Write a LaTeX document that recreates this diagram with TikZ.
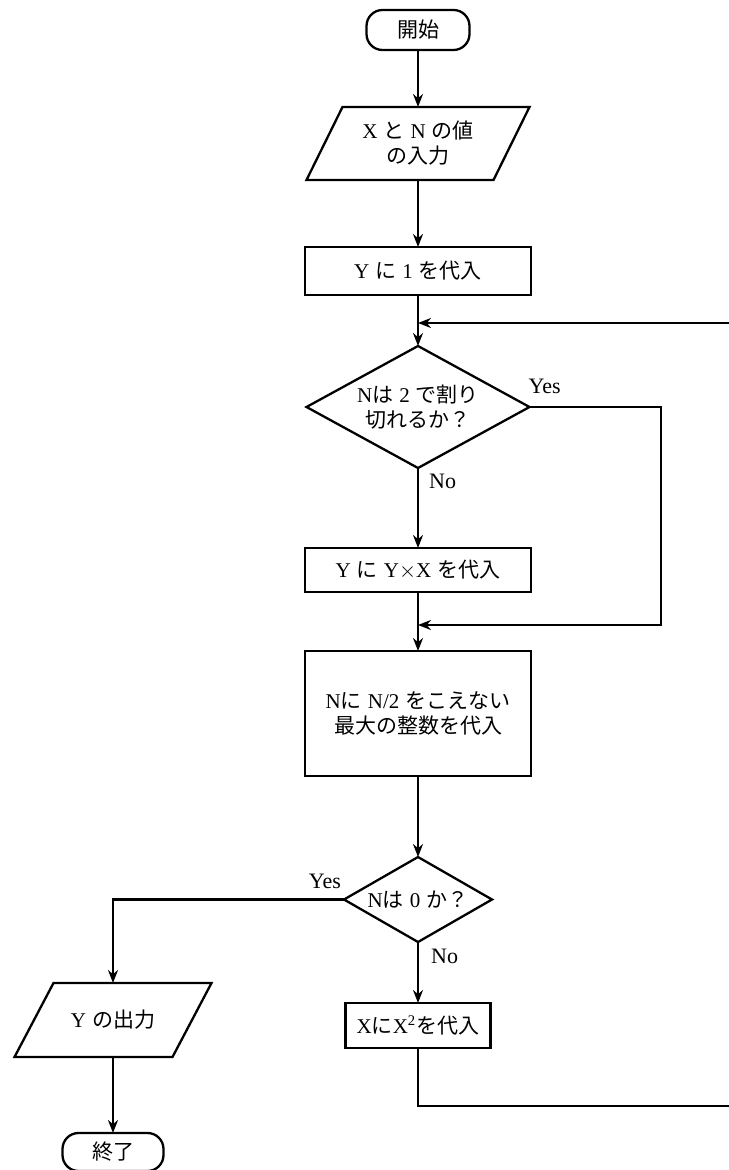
\documentclass[tikz,border=0pt]{standalone}
\usepackage{fontspec}
\setmainfont{Liberation Serif}
\newfontfamily\jpfont{Noto Sans CJK JP}
\newcommand{\jp}[1]{{\jpfont #1}}
\newcommand{\gap}{\hspace{3pt}}
% slanted frame round an io node
\newcommand{\ioframe}[2]{\draw ([xshift=-#2]#1.south west) -- ([xshift=#2]#1.north west)
  -- ([xshift=#2]#1.north east) -- ([xshift=-#2]#1.south east) -- cycle;}
\usetikzlibrary{arrows.meta,positioning,shapes.geometric}
\tikzset{
  terminal/.style={draw, rounded corners=8pt, minimum width=51.5pt,
    minimum height=20pt, inner sep=1pt, outer sep=0pt},
  process/.style={draw, rectangle, align=center, minimum width=113pt, inner sep=2pt, outer sep=0pt},
  io/.style={rectangle, align=center, inner sep=1pt, outer sep=0pt},
  decision/.style={draw, diamond, align=center, inner sep=0pt, outer sep=0pt},
  flow/.style={-{Stealth[length=6.5pt,width=5pt]}, line width=1.25pt},
  lbl/.style={inner sep=0pt, font=\fontsize{11pt}{13pt}\selectfont}
}

\begin{document}
\begin{tikzpicture}[line width=1.15pt, font=\fontsize{10.5pt}{12.5pt}\selectfont]
        \useasboundingbox (0,0) rectangle (364pt,-585pt);
        \node[terminal] (start) at (209pt,-15pt) {\jp{開始}};
        \node[io, minimum width=93.5pt, minimum height=36.5pt, below=28.5pt of start] (input) {X\gap\jp{と}\gap N\gap\jp{の値}\\\jp{の入力}};
        \node[process, minimum height=24pt, below=33.5pt of input] (setone) {Y\gap\jp{に}\gap 1\gap\jp{を代入}};
        \coordinate[below=14pt of setone] (ret);
        \node[decision, aspect=1.83, minimum width=111.5pt, minimum height=61pt, below=25.5pt of setone] (even) {N\jp{は}\gap 2\gap\jp{で割り}\\\jp{切れるか？}};
        \node[process, minimum height=22pt, below=40pt of even] (mult) {Y\gap\jp{に}\gap Y$\times$X\gap\jp{を代入}};
        \coordinate[below=16.5pt of mult] (join);
        \coordinate[right=121.5pt of join] (skip);
        \node[process, minimum height=62.5pt, below=29.5pt of mult] (half) {N\jp{に}\gap N/2\gap\jp{をこえない}\\\jp{最大の整数を代入}};
        \node[decision, aspect=1.74, minimum width=74pt, minimum height=42.5pt, below=40.5pt of half] (zero) {N\jp{は}\gap 0\gap\jp{か？}};
        \node[process, minimum width=72.5pt, minimum height=22.5pt, inner sep=1pt, below=30.5pt of zero] (square) {X\jp{に}X\textsuperscript{2}\jp{を代入}};
        \coordinate[below=29pt of square] (loopbot);
        \coordinate (edge) at (372pt,0);
        \node[io, minimum width=79pt, minimum height=37pt] (out) at (56.5pt,-510pt) {Y\gap\jp{の出力}};
        \node[terminal, minimum width=50.5pt, minimum height=19pt, below=38pt of out] (stop) {\jp{終了}};
        \ioframe{input}{9pt}
        \ioframe{out}{9.75pt}
        % branch labels
        \node[lbl, above right=6pt and -1pt of even.east] (yesa) {Yes};
        \node[lbl, below right=2.5pt and 5pt of even.south] (noa) {No};
        \node[lbl, above left=5pt and 1pt of zero.west] (yesb) {Yes};
        \node[lbl, below right=3pt and 6pt of zero.south] (nob) {No};
        \draw[flow] (start) -- (input);
        \draw[flow] (input) -- (setone);
        \draw[flow] (setone) -- (even);
        \draw[flow] (even) -- (mult);
        \draw[flow] (mult) -- (half);
        \draw[flow] (even.east) -| (skip) -- (join);
        \draw[flow] (half) -- (zero);
        \draw[flow] (zero) -- (square);
        \draw[flow] (zero.west) -| (out);
        \draw[flow] (out) -- (stop);
        \draw[flow] (square) |- (loopbot -| edge) |- (ret);
    \end{tikzpicture}
\end{document}
